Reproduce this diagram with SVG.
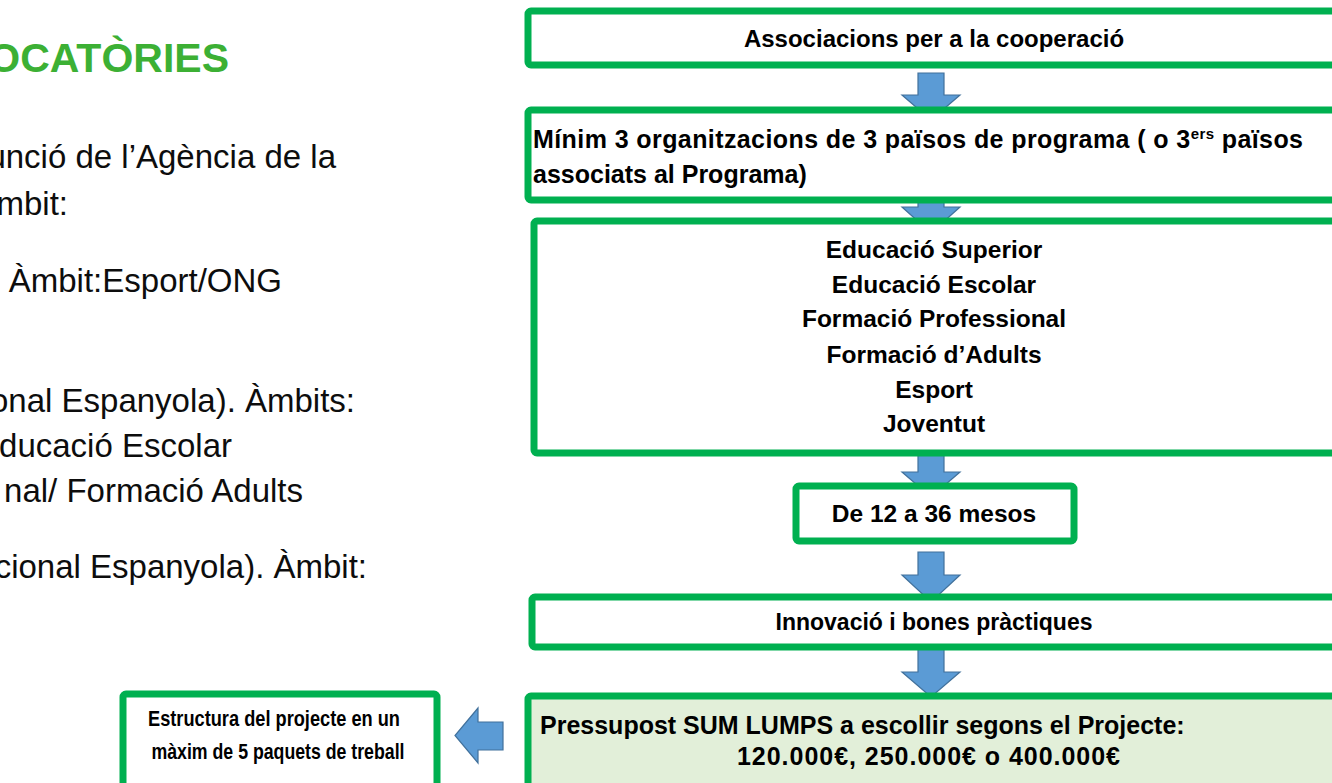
<svg xmlns="http://www.w3.org/2000/svg" width="1332" height="783" viewBox="0 0 1332 783">
<style>
.box{fill:#FFFFFF;stroke:#00B050;stroke-width:7}
.boxg{fill:#E2EFD9;stroke:#00B050;stroke-width:7}
.t{font-family:"Liberation Sans",Arial,sans-serif;font-weight:bold;fill:#000000}
.body{font-family:"Liberation Sans",Arial,sans-serif;font-size:33px;fill:#0D0D0D}
.title{font-family:"Liberation Sans",Arial,sans-serif;font-weight:bold;font-size:41px;fill:#3CB034}
.arr{fill:#5B9BD5;stroke:#41719C;stroke-width:1.2}
</style>
<rect width="1332" height="783" fill="#FFFFFF"/>
<g id="left-text">
<text class="title" x="229" y="72" text-anchor="end">OCATÒRIES</text>
<text class="body" x="336" y="168" text-anchor="end">unció de l’Agència de la</text>
<text class="body" x="68" y="215" text-anchor="end">mbit:</text>
<text class="body" x="282" y="292" text-anchor="end">Àmbit:Esport/ONG</text>
<text class="body" x="355" y="412" text-anchor="end">onal Espanyola). Àmbits:</text>
<text class="body" x="232" y="457" text-anchor="end">ducació Escolar</text>
<text class="body" x="303" y="502" text-anchor="end">nal/ Formació Adults</text>
<text class="body" x="367" y="578" text-anchor="end">cional Espanyola). Àmbit:</text>
</g>
<g id="connectors">
<path class="arr" d="M918,73 H944 V95 H960 L931,120 L902,95 H918 Z"/>
<path class="arr" d="M918,182 H944 V207 H960 L931,233 L902,207 H918 Z"/>
<path class="arr" d="M918,449 H944 V472 H960 L931,497 L902,472 H918 Z"/>
<path class="arr" d="M918,552 H944 V575 H960 L931,602 L902,575 H918 Z"/>
<path class="arr" d="M918,648 H944 V672 H960 L931,697 L902,672 H918 Z"/>
<path class="arr" d="M503,722 H478 V708 L455,735.5 L478,763 V750 H503 Z"/>
</g>
<g id="node-associacions">
<rect class="box" x="528" y="11" width="820" height="54" rx="3"/>
<text class="t" x="934" y="47" font-size="24" text-anchor="middle">Associacions per a la cooperació</text>
</g>
<g id="node-minim">
<rect class="box" x="528" y="110" width="820" height="90" rx="3"/>
<text class="t" x="533" y="148" font-size="25" textLength="770">Mínim 3 organitzacions de 3 països de programa ( o 3<tspan font-size="15" dy="-9">ers</tspan><tspan dy="9"> països</tspan></text>
<text class="t" x="533" y="183" font-size="25">associats al Programa)</text>
</g>
<g id="node-ambits">
<rect class="box" x="534" y="221" width="814" height="232" rx="3"/>
<text class="t" x="934" y="258" font-size="24.5" text-anchor="middle">Educació Superior</text>
<text class="t" x="934" y="293" font-size="24.5" text-anchor="middle">Educació Escolar</text>
<text class="t" x="934" y="327" font-size="24.5" text-anchor="middle">Formació Professional</text>
<text class="t" x="934" y="363" font-size="24.5" text-anchor="middle">Formació d’Adults</text>
<text class="t" x="934" y="398" font-size="24.5" text-anchor="middle">Esport</text>
<text class="t" x="934" y="432" font-size="24.5" text-anchor="middle">Joventut</text>
</g>
<g id="node-durada">
<rect class="box" x="796" y="486" width="278" height="55" rx="3"/>
<text class="t" x="934" y="522" font-size="24.5" text-anchor="middle">De 12 a 36 mesos</text>
</g>
<g id="node-innovacio">
<rect class="box" x="532" y="597" width="816" height="50" rx="3"/>
<text class="t" x="934" y="630" font-size="23" text-anchor="middle">Innovació i bones pràctiques</text>
</g>
<g id="node-pressupost">
<rect class="boxg" x="528" y="696" width="820" height="110" rx="3"/>
<text class="t" x="540" y="734" font-size="25">Pressupost SUM LUMPS a escollir segons el Projecte:</text>
<text class="t" x="737" y="765" font-size="25" textLength="383">120.000€, 250.000€ o 400.000€</text>
</g>
<g id="node-estructura">
<rect class="box" x="123" y="694" width="314" height="110" rx="3"/>
<text class="t" x="274" y="726" font-size="21.5" text-anchor="middle" textLength="252" lengthAdjust="spacingAndGlyphs">Estructura del projecte  en un</text>
<text class="t" x="278" y="759" font-size="21.5" text-anchor="middle" textLength="253" lengthAdjust="spacingAndGlyphs">màxim de 5 paquets de treball</text>
</g>
</svg>
